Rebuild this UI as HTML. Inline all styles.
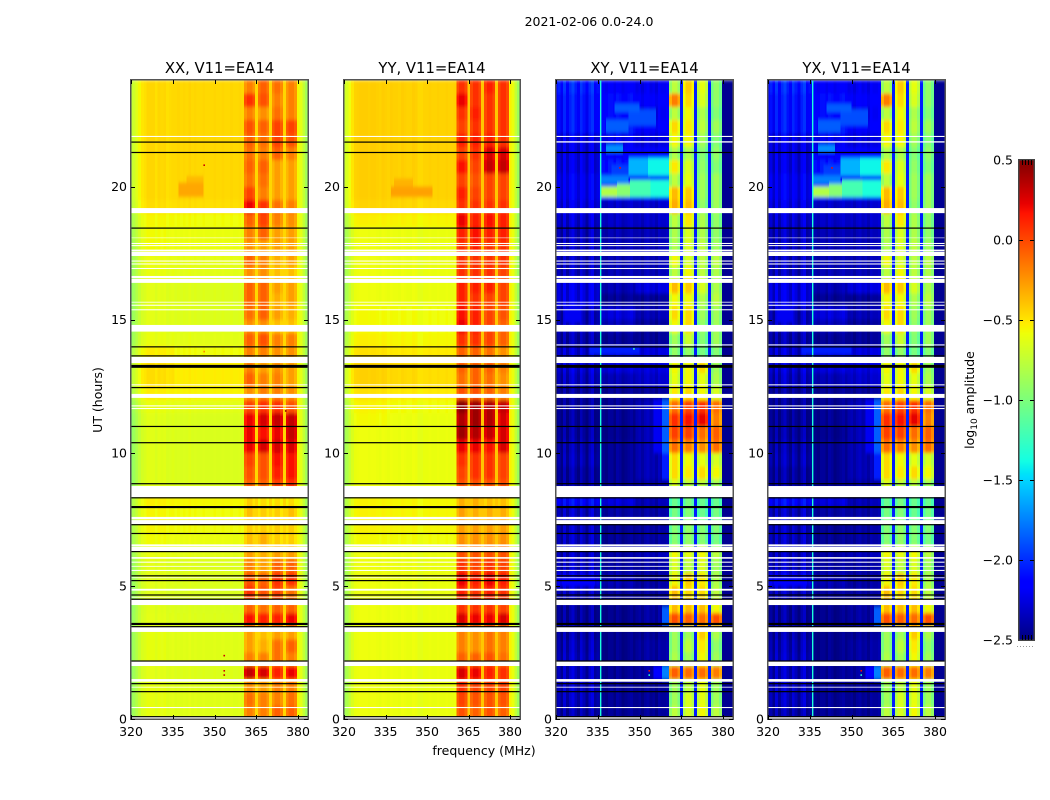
<!DOCTYPE html>
<html lang="en">
<head>
<meta charset="utf-8">
<title>2021-02-06 0.0-24.0</title>
<style>
html,body{margin:0;padding:0;background:#fff;}
svg{display:block;}
text{font-family:"DejaVu Sans","Liberation Sans",sans-serif;fill:#000;}
</style>
</head>
<body>
<svg id="figure" xmlns="http://www.w3.org/2000/svg" width="1050" height="800" viewBox="0 0 1050 800">
  <defs>
    <filter id="soft" filterUnits="userSpaceOnUse" x="0" y="0" width="1050" height="800"><feGaussianBlur stdDeviation="0.3 1.8"/></filter>
  </defs>
  <rect width="1050" height="800" fill="#fff"/>
  <text x="589" y="26" font-size="12.5" text-anchor="middle">2021-02-06 0.0-24.0</text>
  <text x="484" y="755" font-size="12.5" text-anchor="middle">frequency (MHz)</text>
  <text transform="translate(102,400) rotate(-90)" font-size="12.5" text-anchor="middle">UT (hours)</text>
  <text transform="translate(974,400) rotate(-90)" font-size="12.5" text-anchor="middle">log<tspan font-size="9" dy="3">10</tspan><tspan dy="-3"> amplitude</tspan></text>
</svg>
<script>
/* ---------- chart data ---------- */
const panelTitles = ["XX, V11=EA14", "YY, V11=EA14", "XY, V11=EA14", "YX, V11=EA14"];
const xTicks = [320, 335, 350, 365, 380];
const yTicks = [0, 5, 10, 15, 20];
const colorTicks = [0.5, 0.0, -0.5, -1.0, -1.5, -2.0, -2.5];
const rowHours = 0.5;
const firstChannel = 320;
const channelCount = 64;

/* band number for each channel: A,B,C backgrounds=0,1,2; sub-bands=3..6; gaps=7; upper edge=8 */
const channelColumn = [
 0,0,0,0,0,0,0,0,0,0,0,0,0,0,0,0,
 1,1,1,1,1,1,1,1,1,1,1,1,1,
 2,2,2,2,2,2,2,2,2,2,2,2,
 3,3,3,3,7,4,4,4,4,7,5,5,5,5,7,6,6,6,6,
 8,8,8,8];

/* log10 amplitude per half-hour row: [bgLow, bgMid, bgHigh, band1, band2, band3, band4] */
const xxRows = [
[-.64,-.64,-.64,-.2,-.2,-.1,-.1],[-.64,-.64,-.64,-.15,-.2,-.2,-.15],[-.64,-.64,-.64,-.25,-.3,-.2,-.2],
[-.65,-.65,-.65,.3,.25,.1,.2],[-.64,-.64,-.64,-.2,-.2,-.15,-.2],[-.64,-.64,-.64,-.3,-.35,-.15,-.1],
[-.64,-.64,-.64,-.3,-.4,-.3,-.3],[-.65,-.65,-.65,.15,.1,.1,.2],[-.66,-.66,-.66,-.1,-.15,-.1,-.1],
[-.66,-.66,-.66,.05,-.05,0,-.15],[-.65,-.65,-.65,-.05,-.1,.05,.05],[-.65,-.65,-.65,-.2,-.3,-.1,-.1],
[-.63,-.63,-.63,-.3,-.35,-.3,-.3],[-.6,-.6,-.6,-.4,-.35,-.45,-.45],[-.58,-.58,-.58,-.45,-.45,-.45,-.45],
[-.58,-.58,-.58,-.4,-.45,-.45,-.4],[-.56,-.56,-.56,-.45,-.5,-.5,-.5],[-.66,-.66,-.66,-.1,-.1,0,.05],
[-.66,-.66,-.66,-.05,-.05,.1,.15],[-.66,-.66,-.66,0,-.05,.15,.15],[-.66,-.66,-.66,.2,.25,.25,.25],
[-.66,-.66,-.66,.2,.15,.2,.3],[-.66,-.66,-.66,.2,.25,.3,.3],[-.63,-.63,-.63,0,.05,.05,-.05],
[-.55,-.55,-.55,-.25,-.2,-.2,-.25],[-.5,-.53,-.53,-.1,-.2,-.2,-.3],[-.5,-.53,-.53,-.2,-.3,-.25,-.3],
[-.55,-.58,-.58,-.2,-.2,-.25,-.25],[-.63,-.63,-.63,-.1,-.05,-.2,-.2],[-.65,-.65,-.65,-.25,-.25,-.4,-.4],
[-.65,-.65,-.65,-.15,-.1,-.3,-.35],[-.65,-.65,-.65,-.1,-.1,-.35,-.3],[-.65,-.65,-.65,-.1,-.1,-.3,-.3],
[-.63,-.63,-.63,-.25,-.25,-.4,-.4],[-.62,-.62,-.62,-.1,-.2,-.35,-.3],[-.6,-.6,-.6,-.25,-.3,-.3,-.3],
[-.6,-.6,-.6,-.2,-.1,-.3,-.3],[-.58,-.58,-.58,-.1,0,-.2,-.25],[-.5,-.48,-.48,.2,.05,-.15,-.2],
[-.48,-.46,-.46,0,-.2,-.3,-.3],[-.48,-.46,-.46,-.15,-.15,-.3,-.3],[-.48,-.46,-.46,-.1,-.1,-.3,-.3],
[-.48,-.46,-.46,-.15,-.2,-.1,-.2],[-.48,-.46,-.46,-.1,-.15,0,-.05],[-.48,-.46,-.46,-.05,-.1,0,0],
[-.48,-.46,-.46,-.2,-.25,-.15,-.2],[-.48,-.46,-.46,.05,-.05,-.2,-.2],[-.48,-.46,-.46,-.2,-.1,-.15,-.2]];

const yyRows = [
[-.6,-.6,-.6,-.05,-.1,-.05,-.1],[-.6,-.6,-.6,0,-.05,-.05,-.05],[-.6,-.6,-.6,.05,0,0,0],
[-.6,-.6,-.6,.25,.2,.1,.05],[-.6,-.6,-.6,-.1,-.1,-.05,-.15],[-.6,-.6,-.6,-.2,-.25,-.15,-.2],
[-.6,-.6,-.6,-.2,-.25,-.15,-.2],[-.6,-.6,-.6,.25,.2,.2,.25],[-.6,-.6,-.6,.05,.05,.05,0],
[-.6,-.6,-.6,.1,.05,.1,.05],[-.6,-.6,-.6,.2,.1,.2,.1],[-.6,-.6,-.6,.05,0,.05,0],
[-.6,-.6,-.6,-.05,-.05,-.05,-.05],[-.58,-.58,-.58,-.25,-.25,-.25,-.25],[-.56,-.56,-.56,-.3,-.3,-.3,-.3],
[-.56,-.56,-.56,-.3,-.35,-.35,-.35],[-.56,-.56,-.56,-.35,-.35,-.4,-.4],[-.6,-.6,-.6,-.05,-.05,-.05,-.05],
[-.6,-.6,-.6,0,.05,.05,0],[-.6,-.6,-.6,.05,.05,.05,0],[-.6,-.6,-.6,.2,.2,.15,.25],
[-.6,-.6,-.6,.4,.35,.3,.25],[-.58,-.6,-.6,.35,.4,.35,.25],[-.56,-.58,-.58,.45,.4,.35,.3],
[-.5,-.52,-.52,-.05,-.05,-.1,-.2],[-.45,-.47,-.48,-.15,-.1,-.15,-.25],[-.45,-.47,-.48,-.1,-.1,-.1,-.2],
[-.5,-.52,-.52,-.1,-.1,-.15,-.25],[-.55,-.56,-.56,.05,.05,0,-.1],[-.58,-.58,-.58,.2,.1,0,-.1],
[-.58,-.58,-.58,.15,.1,0,-.05],[-.6,-.6,-.6,.1,.05,0,0],[-.6,-.6,-.6,.1,.1,.1,0],
[-.6,-.6,-.6,.05,.05,.05,0],[-.6,-.6,-.6,.05,.05,.05,.05],[-.6,-.6,-.6,.05,.1,.05,.05],
[-.6,-.6,-.6,.1,.15,.1,.1],[-.55,-.55,-.55,.2,.1,.15,.1],[-.46,-.46,-.46,.05,.05,.05,.05],
[-.44,-.44,-.44,.1,0,0,0],[-.44,-.44,-.44,0,-.05,0,0],[-.44,-.44,-.44,.15,0,.3,.3],
[-.44,-.44,-.44,0,.05,.25,.25],[-.44,-.44,-.44,.1,.1,.1,.05],[-.44,-.44,-.44,0,.05,.05,.05],
[-.44,-.44,-.44,.05,.1,.05,.05],[-.44,-.44,-.44,.2,.05,.05,.05],[-.44,-.44,-.44,.05,.05,.1,.05]];

const xyRows = [
[-2.35,-2.38,-2.38,-.7,-.6,-.5,-.7],[-2.3,-2.38,-2.38,-.8,-.6,-.55,-.8],[-2.3,-2.38,-2.38,-.8,-.7,-.55,-.8],
[-2.3,-2.38,-2.35,0,-.05,-.05,-.1],[-2.3,-2.4,-2.35,-.75,-.8,-.5,-.8],[-2.32,-2.4,-2.35,-.8,-.7,-.45,-.85],
[-2.35,-2.4,-2.38,-.8,-.8,-.35,-.75],[-2.38,-2.4,-2.35,.05,0,-.05,.05],[-2.38,-2.4,-2.35,-.3,-.3,-.3,-.5],
[-2.3,-2.35,-2.35,-.3,-.4,-.4,-.7],[-2.15,-2.3,-2.35,-.5,-.35,-.45,-.75],[-2.3,-2.35,-2.35,-.6,-.7,-.6,-.8],
[-2.3,-2.35,-2.3,-.5,-.55,-.5,-.7],[-2.3,-2.38,-2.35,-.9,-.85,-.9,-.95],[-2.3,-2.38,-2.35,-.9,-.85,-.9,-.9],
[-2.3,-2.35,-2.35,-.95,-.9,-1,-.95],[-2.1,-2.2,-2.3,-1,-.95,-1,-1],[-2.38,-2.38,-2.35,-.6,-.7,-.7,-.8],
[-2.38,-2.38,-2.3,-.4,-.45,-.4,-.5],[-2.33,-2.38,-2.3,-.4,-.5,-.55,-.6],[-2.35,-2.38,-2.3,-.05,-.1,-.15,-.05],
[-2.38,-2.4,-2.3,.1,.1,-.05,0],[-2.4,-2.38,-2.3,.15,.25,.3,-.1],[-2.4,-2.38,-2.3,-.05,.1,.15,-.05],
[-2.4,-2.38,-2.38,-.45,-.4,-.5,-.6],[-2.3,-2.3,-2.25,-.55,-.5,-.55,-.75],[-2.25,-2.2,-2.2,-.5,-.5,-.4,-.8],
[-2.25,-2.2,-2.2,-.85,-.85,-.95,-.9],[-2.35,-2.38,-2.38,-.8,-.65,-.9,-.8],[-2.3,-2.3,-2.38,-.5,-.4,-.85,-.8],
[-2.3,-2.2,-2.3,-.4,-.4,-.8,-.8],[-2.2,-2.38,-2.38,-.5,-.5,-.75,-.7],[-2.2,-2.3,-2.2,-.3,-.35,-.6,-.75],
[-2.3,-2.3,-2.3,-.7,-.5,-.7,-.75],[-2.3,-2.3,-2.3,-.5,-.6,-.7,-.7],[-2.3,-2.3,-2.3,-.75,-.6,-.7,-.8],
[-2.3,-2.3,-2.3,-.75,-.6,-.75,-.85],[-2.25,-2.25,-2.25,-.7,-.45,-.75,-.85],[-2.2,-2.25,-2.25,-.25,-.3,-.85,-.8],
[-2.15,-2.1,-2.1,-.3,-.35,-.8,-.8],[-2.15,-2.1,-2.0,-.7,-.55,-.8,-.8],[-2.2,-2.0,-1.9,-.45,-.6,-.85,-.9],
[-2.2,-2.1,-2.1,-.75,-.75,-.9,-.85],[-2.2,-2.15,-2.2,-.5,-.5,-.8,-.9],[-2.05,-2.0,-2.1,-.4,-.45,-.7,-.8],
[-2.05,-2.05,-2.15,-.7,-.5,-.75,-.9],[-2.05,-2.05,-2.1,-.1,-.4,-.6,-.85],[-2.0,-2.1,-2.15,-.7,-.35,-.55,-.85]];

const yxRows = xyRows.map(function (r) { return r.slice(); });

/* per-channel offsets added on top of the row values */
const xxChannelOffset = [
 -.28,-.22,-.15,-.08,-.02,0,.03,.03,.03,0,.03,.02,.03,0,.01,.02,
 0,.01,0,.01,0,.02,0,.01,0,0,.01,0,0,
 0,.01,0,0,.01,0,0,.01,0,0,.01,0,
 -.05,.03,.03,-.05,0,-.05,.03,.03,-.05,0,-.05,.03,.03,-.05,0,-.05,.03,.03,-.05,
 .06,.0,-.12,-.24];
const yyChannelOffset = [
 -.28,-.22,-.14,-.06,0,.01,.02,.02,.02,.01,.02,.02,.01,0,.02,.01,
 0,.02,.01,.01,0,.02,.01,0,0,.02,.01,-.02,-.02,
 0,0,.01,0,0,.01,0,0,.01,0,0,.01,
 -.05,.03,.03,-.05,0,-.05,.03,.03,-.05,0,-.05,.03,.03,-.05,0,-.05,.03,.03,-.05,
 .08,.02,-.12,-.26];
const crossChannelOffset = [
 -.13,-.03,-.16,.04,-.13,0,.07,-.05,-.13,.04,-.05,-.16,0,.07,-.13,-.08,
 -.08,-.08,-.11,-.05,-.05,-.11,-.02,-.05,-.11,-.08,-.05,-.02,-.08,
 -.08,-.05,-.11,-.05,-.02,-.08,-.05,-.11,-.02,-.05,-.05,-.02,
 -.22,-.06,-.06,-.2,0,-.2,-.06,-.06,-.2,0,-.2,-.06,-.06,-.2,0,-.2,-.06,-.06,-.2,
 0,0,0,0];
const gapLevels = [-.45, -.4, -2.05, -2.05];
const upperEdgeLevels = [-.62, -.62, -2.45, -2.45];

/* localized features: [freqFrom, freqTo, utFrom, utTo, log10 amp] */
const xxPatches = [[337,346,19.6,20.15,-.3],[340,346,20.15,20.4,-.36]];
const yyPatches = [[337,352,19.6,20.0,-.28],[338,345,20.0,20.3,-.34]];
const crossPatches = [
 [336,342,19.6,20.0,-.8],[342,346.6,19.6,20.1,-.95],[346.6,354,19.6,20.24,-1.2],[354,360.6,19.6,20.24,-1.35],
 [336,346,20.1,20.42,-1.75],[346,360.6,20.3,20.42,-2.15],
 [340,346,20.42,20.8,-1.95],[346,353,20.42,21.07,-1.6],[353,360.6,20.42,21.07,-1.4],
 [338,344,21.3,21.56,-1.7],[344,360.6,21.07,21.3,-2.15],
 [338,346,22.05,22.5,-1.85],[346,356,22.3,22.9,-1.9],[341,350,22.8,23.1,-1.85],
 [355,358,10,12,-2.2],[358,360.6,10,12,-1.85],[358,360.6,3.5,4.2,-1.85],[355,358,1.5,2,-2.15],[358,360.6,1.5,2,-1.75],[358,360.6,9,10,-2.05],
 [322,334,5,5.3,-2.15],[323,329,14.9,15.5,-2.2],[332,350,13.7,14,-2.05]];

/* narrowband interference lines: [freq MHz, log10 amp] */
const xxLines = [];
const yyLines = [];
const crossLines = [[336.05,-1.35]];

/* masked intervals in UT hours */
const whiteGaps = [[0,.08],[.41,.45],[1.18,1.21],[1.4,1.5],[1.99,2.17],[3.27,3.46],[4.28,4.5],[4.56,4.59],[4.82,4.89],
 [5.29,5.32],[5.56,5.6],[5.72,5.75],[5.87,5.91],[6.02,6.08],[6.31,6.47],[6.49,6.56],[7.32,7.47],[7.5,7.59],[8.33,8.75],
 [11.64,11.68],[11.74,11.78],[12.06,12.21],[12.53,12.57],[13.37,13.6],[14.55,14.8],[15.35,15.39],[15.52,15.56],[15.64,15.67],
 [16.38,16.53],[16.56,16.64],[16.9,16.94],[17.07,17.11],[17.18,17.22],[17.39,17.54],[17.56,17.63],[17.76,17.8],[17.84,17.88],
 [18.06,18.08],[19,19.19],[21.86,21.9]];
const crossWhiteGaps = [[14.03,14.07],[21.65,21.7]];
const blackLines = [[.09,.11],[1.03,1.05],[1.33,1.35],[2.18,2.2],[3.47,3.49],[3.53,3.61],[4.5,4.52],[4.66,4.68],[5.2,5.22],[5.37,5.4],
 [6.28,6.31],[6.96,6.99],[7.3,7.32],[7.92,8],[8.3,8.33],[8.84,8.86],[10.38,10.4],[10.99,11.01],[12.44,12.47],[13.19,13.3],
 [13.63,13.66],[13.97,14],[18.43,18.46],[21.26,21.3]];
const parallelOnlyBlack = [[21.67,21.69]];

/* isolated hot pixels: [freq MHz, UT hours, log10 amp] */
const xxSpecks = [[346.3,20.8,.3],[346.3,13.8,-.2],[353.5,2.38,.3],[353.5,1.81,.3],[353.5,1.65,.3],[375.6,11.57,.45]];
const yySpecks = [];
const xySpecks = [[353.5,1.65,-1.3],[353.5,1.81,.2],[343,20.7,.2],[348,13.9,-1.2]];
const yxSpecks = [[353.5,1.65,-1.3],[353.5,1.81,.2],[343,20.7,.2]];

/* ---------- layout and scales ---------- */
const SVGNS = "http://www.w3.org/2000/svg";
const fig = document.getElementById("figure");
const panelLeft = [131, 344, 556, 768];
const panelRight = [308, 520, 733, 945];
const plotTop = 80, plotBottom = 719;
const VMIN = -2.5, VMAX = 0.5;
const rowSets = [xxRows, yyRows, xyRows, yxRows];
const offsetSets = [xxChannelOffset, yyChannelOffset, crossChannelOffset, crossChannelOffset];
const patchSets = [xxPatches, yyPatches, crossPatches, crossPatches];
const lineSets = [xxLines, yyLines, crossLines, crossLines];
const speckSets = [xxSpecks, yySpecks, xySpecks, yxSpecks];
const panelNames = ["xx", "yy", "xy", "yx"];

function yScale(h) { return plotBottom - h * (plotBottom - plotTop) / 24; }
function xScaleFor(p) {
  const k = (panelLeft[p + 0] === 344 ? 166 : 167) / 60;
  return function (f) { return panelLeft[p] + (f - 320) * k; };
}
function ramp(t, pts) {
  for (let i = 1; i < pts.length; i++) {
    if (t <= pts[i][0]) {
      const a = pts[i - 1], b = pts[i];
      return a[1] + (b[1] - a[1]) * (t - a[0]) / (b[0] - a[0]);
    }
  }
  return pts[pts.length - 1][1];
}
function jet(v) {
  const t = Math.max(0, Math.min(1, (v - VMIN) / (VMAX - VMIN)));
  const r = ramp(t, [[0,0],[.35,0],[.66,1],[.89,1],[1,.5]]);
  const g = ramp(t, [[0,0],[.125,0],[.375,1],[.64,1],[.91,0],[1,0]]);
  const b = ramp(t, [[0,.5],[.11,1],[.34,1],[.65,0],[1,0]]);
  return "rgb(" + Math.round(r * 255) + "," + Math.round(g * 255) + "," + Math.round(b * 255) + ")";
}
function make(tag, attrs, parent) {
  const el = document.createElementNS(SVGNS, tag);
  for (const k in attrs) el.setAttribute(k, attrs[k]);
  (parent || fig).appendChild(el);
  return el;
}

/* ---------- panels ---------- */
panelTitles.forEach(function (title, p) {
  const x = xScaleFor(p);
  const L = panelLeft[p], R = panelRight[p];
  const W = R - L, H = plotBottom - plotTop;
  const panel = make("g", {});
  
  

  const clip = make("clipPath", { id: "clip" + p }, panel);
  make("rect", { x: L, y: plotTop, width: W, height: H }, clip);

  const clipped = make("g", { "clip-path": "url(#clip" + p + ")" }, panel);
  
  

  const heat = make("g", { filter: "url(#soft)", "shape-rendering": "crispEdges" }, clipped);
  
  

  const rows = rowSets[p], offs = offsetSets[p];
  rows.forEach(function (row, r) {
    const yTop = yScale((r + 1) * rowHours), yBot = yScale(r * rowHours);
    for (let c = 0; c < channelCount; c++) {
      const col = channelColumn[c];
      let v;
      if (col === 7) v = gapLevels[p];
      else if (col === 8) v = upperEdgeLevels[p] + offs[c];
      else v = row[col] + offs[c];
      const f = firstChannel + c;
      const x0 = x(f - 0.4), x1 = x(f + 0.6);
      const cell = make("rect", { x: x0, y: yTop, width: x1 - x0 + 0.3, height: yBot - yTop + 0.3, fill: jet(v) }, heat);
      
      
    }
  });

  patchSets[p].forEach(function (s) {
    const patch = make("rect", { x: x(s[0]), y: yScale(s[3]), width: x(s[1]) - x(s[0]), height: yScale(s[2]) - yScale(s[3]), fill: jet(s[4]) }, heat);
    
    
  });

  lineSets[p].forEach(function (s) {
    const rfi = make("rect", { x: x(s[0]) - 0.7, y: plotTop, width: 1.4, height: H, fill: jet(s[1]) }, clipped);
    
    
  });

  speckSets[p].forEach(function (s) {
    const dot = make("rect", { x: x(s[0]) - 0.8, y: yScale(s[1]) - 0.8, width: 1.6, height: 1.6, fill: jet(s[2]) }, clipped);
    
    
  });

  const whites = p >= 2 ? whiteGaps.concat(crossWhiteGaps) : whiteGaps;
  whites.forEach(function (g) {
    const band = make("rect", { x: L, y: yScale(g[1]), width: W, height: yScale(g[0]) - yScale(g[1]), fill: "#fff" }, clipped);
    
    
  });
  const blacks = p < 2 ? blackLines.concat(parallelOnlyBlack) : blackLines;
  blacks.forEach(function (g) {
    const top = yScale(g[1]);
    const hgt = Math.max(1.2, yScale(g[0]) - top);
    const line = make("rect", { x: L, y: top, width: W, height: hgt, fill: "#000" }, clipped);
    
    
  });

  const frame = make("rect", { x: L - 0.25, y: plotTop - 0.25, width: W + 0.5, height: H + 0.5, fill: "none", stroke: "#555", "stroke-width": 1.5 }, panel);
  
  

  xTicks.forEach(function (t) {
    const px = Math.round(x(t)) + 0.5;
    const tb = make("line", { x1: px, x2: px, y1: plotBottom, y2: plotBottom - 4, stroke: "#000" }, panel);
    
    
    const tt = make("line", { x1: px, x2: px, y1: plotTop, y2: plotTop + 4, stroke: "#000" }, panel);
    
    
    const lab = make("text", { x: x(t), y: 736, "font-size": 12.5, "text-anchor": "middle" }, panel);
    lab.textContent = String(t);
    
    
  });
  yTicks.forEach(function (t) {
    const py = Math.round(yScale(t)) + 0.5;
    const tl = make("line", { x1: L, x2: L + 4, y1: py, y2: py, stroke: "#000" }, panel);
    
    
    const tr = make("line", { x1: R, x2: R - 4, y1: py, y2: py, stroke: "#000" }, panel);
    
    
    const lab = make("text", { x: L - 4, y: yScale(t) + 4.5, "font-size": 12.5, "text-anchor": "end" }, panel);
    lab.textContent = String(t);
    
    
  });
  const head = make("text", { x: (L + R) / 2, y: 73, "font-size": 14.8, "text-anchor": "middle" }, panel);
  head.textContent = title;
  
  
});

/* ---------- colorbar ---------- */
const cbL = 1019, cbR = 1034, cbTop = 160, cbBot = 640;
function cbY(v) { return cbBot - (v - VMIN) / (VMAX - VMIN) * (cbBot - cbTop); }
const cb = make("g", {});


const cbSteps = 240;
const cbGrad = make("g", { "shape-rendering": "crispEdges" }, cb);


for (let i = 0; i < cbSteps; i++) {
  const v0 = VMIN + (VMAX - VMIN) * i / cbSteps;
  const v1 = VMIN + (VMAX - VMIN) * (i + 1) / cbSteps;
  const seg = make("rect", { x: cbL, y: cbY(v1), width: cbR - cbL, height: cbY(v0) - cbY(v1) + 0.3, fill: jet((v0 + v1) / 2) }, cbGrad);
  
  
}
const cbFrame = make("rect", { x: cbL - 0.25, y: cbTop - 0.25, width: cbR - cbL + 0.5, height: cbBot - cbTop + 0.5, fill: "none", stroke: "#444", "stroke-width": 1.5 }, cb);


colorTicks.forEach(function (v) {
  const py = Math.round(cbY(v)) + 0.5;
  if (v < 0.5 && v > -2.5) {
    const a = make("line", { x1: cbL, x2: cbL + 4, y1: py, y2: py, stroke: "#000" }, cb);
    
    
    const b = make("line", { x1: cbR, x2: cbR - 4, y1: py, y2: py, stroke: "#000" }, cb);
    
    
  }
  const lab = make("text", { x: 1013, y: cbY(v) + 4.5, "font-size": 12.5, "text-anchor": "end" }, cb);
  lab.textContent = v.toFixed(1).replace("-", "\u2212");
  
  
});
[1022, 1025, 1028, 1031].forEach(function (px) {
  const m1 = make("line", { x1: px + 0.5, x2: px + 0.5, y1: cbTop, y2: cbTop + 5, stroke: "#000" }, cb);
  
  
  const m2 = make("line", { x1: px + 0.5, x2: px + 0.5, y1: cbBot, y2: cbBot - 5, stroke: "#000" }, cb);
  
  
});
const dots = make("line", { x1: 1017, x2: 1035, y1: 646.5, y2: 646.5, stroke: "#999", "stroke-width": 1, "stroke-dasharray": "1 2" }, cb);


</script>
</body>
</html>
